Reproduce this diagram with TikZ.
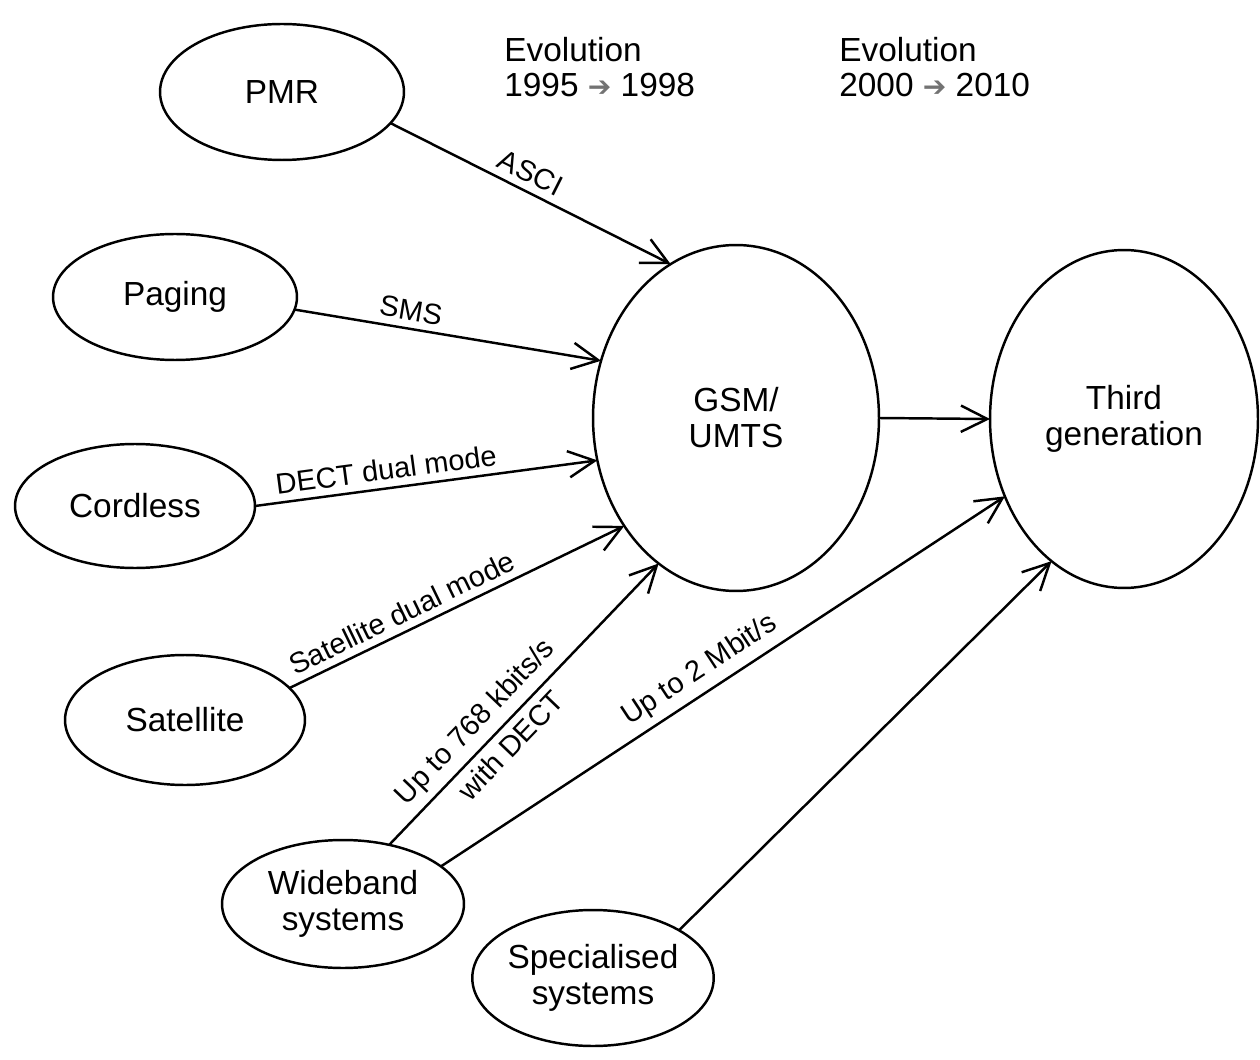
\documentclass[tikz,border=0pt]{standalone}
\usepackage{fontspec}
\setmainfont{Liberation Sans}
\newfontfamily\symfont{DejaVu Sans}
\usetikzlibrary{arrows.meta,shapes.geometric}
\newcommand{\evarrow}{{\symfont\fontsize{16}{16}\selectfont\textcolor{black!55}{➔}}}
\begin{document}
\begin{tikzpicture}[x=0.02cm,y=-0.02cm,
  bub/.style={ellipse,draw,line width=1.4pt,inner sep=0pt,outer sep=0pt,align=center,font=\fontsize{19}{20.5}\selectfont},
  conn/.style={line width=1.4pt,-{Straight Barb[length=15pt,width=15pt,line width=1.4pt]}},
  lab/.style={font=\fontsize{16.5}{18}\selectfont,sloped,inner sep=4pt},
  toptext/.style={anchor=north west,align=left,inner sep=0pt,font=\fontsize{19}{20}\selectfont}]
\useasboundingbox (0,0) rectangle (1260,1060);

\node[bub,minimum width=4.88cm,minimum height=2.72cm] (pmr) at (282,92) {PMR};
\node[bub,minimum width=4.88cm,minimum height=2.52cm] (paging) at (175,297) {Paging};
\node[bub,minimum width=4.8cm,minimum height=2.48cm] (cordless) at (135,506) {Cordless};
\node[bub,minimum width=4.8cm,minimum height=2.6cm] (satellite) at (185,720) {Satellite};
\node[bub,minimum width=4.84cm,minimum height=2.56cm] (wide) at (343,904) {Wideband\\systems};
\node[bub,minimum width=4.72cm,minimum height=2.72cm] (spec) at (593,978) {Specialised\\systems};
\node[bub,minimum width=5.72cm,minimum height=6.92cm] (gsm) at (736,418) {GSM/\\UMTS};
\node[bub,minimum width=5.36cm,minimum height=6.76cm] (third) at (1124,419) {Third\\generation};

\node[toptext] (ev1) at (504,37) {Evolution\\1995 \evarrow\ 1998};
\node[toptext] (ev2) at (839,37) {Evolution\\2000 \evarrow\ 2010};

\draw[conn] (pmr.-16) -- node[lab,above,pos=0.47] {ASCI} (gsm.113);
\draw[conn] (paging.-6) -- node[lab,above,pos=0.37] {SMS} (gsm.157);
\draw[conn] (cordless.0) -- node[lab,above,pos=0.39] {DECT dual mode} (gsm.197);
\draw[conn] (satellite.17) -- node[lab,above,pos=0.36] {Satellite dual mode} (gsm.-136);
\draw[conn] (wide.52) -- node[lab,above,pos=0.38] {Up to 768 kbits/s} node[lab,below,pos=0.40] {with DECT} (gsm.-118.6);
\draw[conn] (wide.21) -- node[lab,above,pos=0.48] {Up to 2 Mbit/s} (third.-147);
\draw[conn] (spec.29) -- (third.-117);
\draw[conn] (gsm.east) -- (third.west);
\end{tikzpicture}
\end{document}
